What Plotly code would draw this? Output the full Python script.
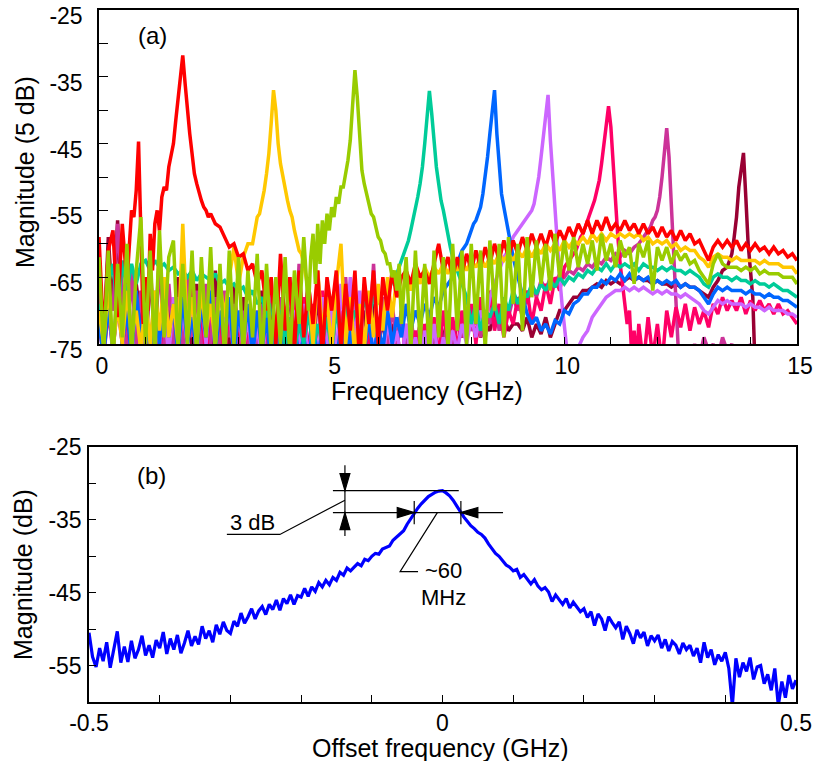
import plotly.graph_objects as go

FIG_W, FIG_H = 821, 761
FONT = "Liberation Sans, Arial, sans-serif"

# ---------------------------------------------------------------------------
# Panel (a): measured spectra, one trace per tuned frequency.
# Each spectrum is kept as segments: (start GHz, step GHz, magnitudes in dB).
# ---------------------------------------------------------------------------
RED_LOW = [-59, -74, -61, -58, -71, -57, -66, -55]
RED_PEAK = [-56, -52, -44.7, -58, -72, -65, -70, -58.5, -64, -57,
            -55, -58, -53, -51.5, -52, -48.5, -47, -45, -41.5, -38.5,
            -34.5, -31.8, -36, -40, -43.5, -46.5, -49.5, -51, -52.5, -53.5,
            -54.5, -55, -56]
RED_HIGH = [-55.5, -57, -57.5, -59, -60.5, -60,
            -62, -61.5, -64, -63, -66, -64, -70, -65, -75, -61.5,
            -73, -65, -76, -64, -74, -66, -72, -64, -77, -65,
            -70, -64, -76, -66, -73, -64, -78, -65, -72, -64,
            -75, -65, -70, -64, -68, -65, -64, -66, -63, -65,
            -64, -66, -63, -60, -64, -62, -65, -62, -64.5, -61.5,
            -64, -61, -63.5, -60.5, -63, -60, -62.5, -59.5, -62, -59.5,
            -61.5, -59, -61, -58.5, -60.5, -58.5, -60.5, -58, -60, -58,
            -59.5, -57.5, -59, -57, -58.5, -56.5, -58.5, -56.5, -58, -56,
            -58, -57, -58, -56.5, -58, -57, -58.5, -57, -58.5, -57.5,
            -59, -57.5, -59, -58, -59.5, -58, -59.5, -58.5, -60, -59.5,
            -61, -62.5, -60.5, -59.5, -60.5, -59.5, -60.5, -59.5, -61, -60,
            -61, -60, -61, -60.5, -61.5, -60.5, -61.5, -61, -62, -61.5,
            -62.5]

YEL_LOW = [-70, -75, -66, -76, -69, -75, -67, -74, -70, -76,
           -68, -75, -67, -73, -65, -74, -69, -75, -57, -74,
           -68, -75, -67, -73, -69, -75, -66, -71, -65, -60.5,
           -66, -62, -60]
YEL_PEAK = [-60, -58, -56, -55.5, -54, -52, -49.5, -46.5, -42, -37,
            -40, -45, -48, -50, -52, -53.5, -55, -56, -58, -59.5,
            -61, -61.5, -63]
YEL_HIGH = [-67, -75, -64, -73, -68,
            -76, -66, -60, -75, -68, -77, -69, -76, -67, -74,
            -66, -73, -65, -71, -65, -69, -64, -67, -64, -66,
            -63.5, -65, -63.5, -64.5, -63, -64.5, -63, -64, -62.5, -64,
            -62.5, -63.5, -62, -63.5, -62, -63, -61.5, -62.5, -61.5, -62.5,
            -61, -62, -60.5, -62, -60.5, -61.5, -60, -61, -60, -61,
            -59.5, -60.5, -59.5, -60, -59, -60, -58.5, -59.5, -58.5, -59.5,
            -58.5, -59, -58.5, -59, -58.5, -59, -58.5, -59.5, -59, -60,
            -59.5, -60, -59.5, -60.5, -60, -61, -60.5, -61, -61, -62,
            -62.5, -63.5, -62, -61.5, -62, -62, -62.5, -62, -62.5, -62.5,
            -62.5, -62.5, -63, -62.5, -63, -63, -63, -63.5, -63.5, -63.5,
            -64.5]

GRN_LOW = [-62, -76, -61, -78, -63, -74, -60, -77, -64, -56,
           -75, -61, -77, -58, -74, -62, -59.5, -76, -63, -75,
           -61, -77, -62, -74, -60.5, -76, -63, -78, -61, -75,
           -62, -77, -64, -74, -61.5, -78, -63, -76, -65, -75,
           -62, -77, -64, -72, -59, -70]
GRN_PEAK = [-62, -58.5, -66, -57, -63, -56.5, -60, -55.5, -58, -54.5,
            -56, -53, -54, -51.5, -51.5, -49.5, -47.5, -44.5, -40, -34,
            -38, -44.5, -49, -51, -52.5, -54, -55.5, -56, -57.5, -59,
            -59.5, -61, -61.5, -63, -63, -65, -64, -67, -63]
GRN_HIGH = [-72, -62, -76, -61, -75,
            -63, -77, -61, -74, -62, -76, -60, -73, -61, -75,
            -60, -72, -61, -76, -59.5, -70, -60, -74, -59, -69,
            -60, -73, -59, -68, -59.5, -66, -60, -67, -58.5, -65,
            -59.5, -64, -59, -63.5, -60, -63, -59.5, -64, -58.5, -62.5,
            -60, -63.5, -59.5, -62, -60.5, -66, -60, -62, -59.5, -67,
            -60.5, -62.5, -60.5, -63, -61, -62.5, -61.5, -63, -62.5, -64,
            -65, -66, -63, -61.5, -63, -63.5, -63.5, -63.5, -64, -63.5,
            -64, -63.5, -64.5, -64, -64.5, -64.5, -64.5, -65, -65, -65,
            -66]

TEA_LOW = [-69, -75, -66, -63, -70, -62.5, -67, -63, -66, -63,
           -62.5, -64, -62.5, -63.5, -63, -64, -63.5, -64.5, -64, -65,
           -64, -65.5, -64.5, -65, -65.5, -64.5, -66, -65.5, -66.5, -66,
           -67, -66.5, -68, -67, -69, -68, -71, -69, -73, -70,
           -75, -71, -76, -72, -75, -70, -76, -72, -75, -71,
           -76, -70, -74, -69, -73, -70, -72, -68, -71, -68,
           -69, -67, -67.5, -65.5]
TEA_PEAK = [-64.5, -63.5, -62.5, -61.5, -60.5, -59.5, -58, -56.5, -55, -53,
            -51, -48.5, -45, -40.5, -37.1, -40.5, -45, -48.5, -51, -53.5,
            -55, -57, -59, -60.5, -62, -63, -64, -65, -66]
TEA_HIGH = [-68,
            -72, -69, -73, -70, -71, -69, -72, -68, -70, -67,
            -69, -67, -68, -66, -67.5, -66, -67, -65.5, -66.5, -65,
            -66, -65, -65.5, -64.5, -65, -64, -64.5, -63.5, -64, -63,
            -64, -63, -63.5, -63, -63.5, -63, -64, -63, -63.5, -63.5,
            -64, -63.5, -64, -63.5, -64, -64, -64.5, -64, -64.5, -65,
            -66, -66.5, -65, -64.5, -65, -65, -65.5, -65, -65.5, -65.5,
            -66, -65.5, -66, -66, -66.5, -66, -66.5, -67, -67, -67.5,
            -68]

BLU_LOW = [-72, -77, -69, -76, -68, -75, -70, -77, -67, -74,
           -70, -76, -68, -75, -66, -74, -69, -77, -68, -75,
           -71, -76, -69, -74, -67, -76, -70, -75, -68, -77,
           -70, -75, -69, -77, -70, -76, -71, -78, -72, -76,
           -73, -78, -72, -77, -74, -78, -72, -77, -73, -78,
           -74, -78, -72, -77, -73, -78, -72, -76, -71, -77,
           -72, -76, -70, -75, -71, -74, -69, -73, -70, -72,
           -69, -71, -68, -69.5, -67, -66]
BLU_PEAK = [-65, -63.5, -63, -62, -61, -60.5, -60, -59, -58, -57,
            -56.5, -55.5, -54.5, -52.5, -50, -47, -43.5, -39.5, -37, -43.5,
            -49, -52.5, -54.5, -56.5, -58.5, -60.5, -62, -63.5, -65]
BLU_HIGH = [-68, -70.5, -72, -71, -73, -72, -73.5, -71.5, -72,
            -70, -70.5, -69, -68.5, -67.5, -67.5, -66.5, -66.5, -65.5, -66,
            -65, -65.5, -64.5, -65.5, -64.5, -65.5, -65, -65.5, -65, -66,
            -65.5, -66, -65.5, -66, -65.5, -66.5, -66, -66.5, -66.5, -67,
            -68, -69, -67.5, -66.5, -67, -66.5, -67, -67, -67, -67.5,
            -67, -67.5, -67.5, -68, -67.5, -68, -68, -68.5, -68.5, -69,
            -69.5]

PUR_LOW = [-70, -76, -68, -77, -66, -75, -69, -77, -68, -76,
           -71, -76, -67, -75, -69, -77, -68, -76, -70, -75,
           -69, -77, -68, -75, -65.5, -76, -66, -74, -69, -77,
           -70, -76, -71, -77, -72, -78, -71, -76, -73, -78,
           -72, -77, -70, -76, -69, -78, -71, -77, -68, -76,
           -70, -77, -66, -75, -65, -74, -67, -76, -70, -77,
           -72, -78, -71, -76, -73, -78, -72, -77, -74, -78,
           -73, -77, -72, -78, -74, -77, -73, -76, -72, -75,
           -71, -74, -70, -72, -68, -66, -64, -62]
PUR_PEAK = [-61, -60, -59, -58.5, -58, -57.5, -57, -56.5, -56, -55.5,
            -55, -54, -52, -50, -47, -43.5, -40, -37.7, -44.5, -50,
            -56, -60.5, -65, -69, -73, -75.5, -77]
PUR_HIGH = [-76, -75.5, -74, -73, -71, -70, -69, -68,
            -67.5, -67, -67, -66.5, -67, -66.5, -67, -66.5, -67, -67.5,
            -67, -67.5, -67, -67.5, -67.5, -68, -67.5, -68, -68.5, -69,
            -70, -70.5, -69.5, -68.5, -69, -68.5, -69, -69, -69, -69.5,
            -69, -69.5, -69.5, -70, -69.5, -70, -70, -70, -70.5, -70.5,
            -71]

PNK_LOW = [-72, -77, -70, -76, -69, -75, -71, -77, -68, -76,
           -70, -77, -69, -76, -71, -75, -68, -77, -62, -75,
           -66, -76, -70, -77, -68, -75, -71, -77, -69, -76,
           -71, -77, -72, -76, -70, -78, -72, -77, -73, -78,
           -70, -77, -66, -75, -68, -77, -69, -76, -67, -75,
           -69, -77, -70, -76, -72, -78, -71, -77, -73, -78,
           -72, -77, -71, -76, -73, -78, -72, -76, -73, -77,
           -72, -76, -71, -77, -70, -75, -71, -76, -70, -74,
           -69, -75, -68, -74, -67, -73, -69, -74, -70, -72,
           -68, -71, -67, -72, -68, -70, -66, -69, -65, -67,
           -63.5, -62.5]
PNK_PEAK = [-61.5, -61, -60, -59, -58.5, -57.5, -56.5, -55.5, -54.5, -53.5,
            -52, -50.5, -48, -45, -42, -39.4, -42.5, -48.5, -53.5, -59,
            -63, -66, -68, -72, -70, -77, -73, -78, -72]
PNK_HIGH = [-78, -71, -77,
            -72, -78, -70, -74, -69.5, -72.5, -69, -73, -69.5, -72,
            -70, -72.5, -69, -70.5, -68, -70, -68.5, -70, -68, -70.5,
            -68.5, -70, -68.5, -70, -69, -70.5, -69, -70.5, -70, -71,
            -72]

MAG_LOW = [-66, -76, -68, -70, -57, -66, -77, -64, -75, -67,
           -76, -63, -75, -61, -77, -66, -75, -68, -76, -65,
           -74, -67, -77, -66, -75, -68, -76, -67, -74, -69,
           -77, -70, -76, -71, -78, -69, -76, -67, -75, -68,
           -76, -65, -77, -63, -75, -66, -77, -64, -76, -66,
           -75, -67, -77, -65, -76, -68, -74, -66, -75, -63,
           -76, -68, -77, -69, -75, -70, -77, -71, -76, -72,
           -75, -71, -77, -72, -76, -70, -75, -71, -74, -70,
           -73, -69, -74, -70, -72, -68, -73, -69, -71, -68,
           -70, -67, -69, -66, -68, -65.5, -67, -65, -66, -64.5,
           -65, -64, -64.5, -63.5, -64, -63, -63.5, -62.5, -63, -62,
           -62.5, -61.5, -62, -61, -61.5, -60.5]
MAG_PEAK = [-60, -59.5, -59, -58.5, -58, -57.5, -56.5, -56, -55, -53,
            -50, -46, -42.7, -47, -55, -63, -70, -76, -79]
MAG_HIGH = [-76, -78, -75, -77,
            -74, -76, -75, -77, -74, -76, -75, -77, -76, -78,
            -75, -77, -76, -78, -77, -78, -76, -78, -77, -78,
            -77]

MAR_LOW = [-65, -75, -59, -70, -56.5, -74, -63, -76, -66, -72,
           -77, -64, -75, -62, -74, -67, -76, -65, -75, -68,
           -76, -66, -75, -69, -77, -64, -75, -68, -76, -66,
           -75, -68, -77, -70, -76, -67, -75, -69, -77, -71,
           -76, -66, -77, -68, -75, -65, -77, -67, -76, -69,
           -77, -66, -75, -67, -76, -68, -77, -70, -75, -69,
           -76, -71, -77, -72, -75, -70, -76, -71, -77, -72,
           -75, -70, -76, -72, -74, -71, -75, -72, -74, -71,
           -73, -71, -74, -72, -73, -70, -72, -71, -73, -72,
           -72, -73, -71, -74, -72, -73.5, -71, -74, -72, -70,
           -70, -69, -68, -68, -67, -67, -66.5, -66, -66.5, -65.5,
           -66, -65.5, -66, -65.5, -65, -65.5, -65, -65.5, -65.5, -66,
           -65.5, -66, -66, -66.5, -66, -66.5, -66, -66.5, -66.5, -67,
           -67.5, -68, -66.5, -65.5, -64]
MAR_PEAK = [-63.5, -62.5, -61.5, -59, -56, -51.5, -48.5, -46.4, -53, -60,
            -64, -68, -79]
MAR_HIGH = [-77, -78, -76, -78, -77, -78, -77, -78, -77]

# drawing order: later entries sit on top
SPECTRA = [
    ("#990033", [(0.0, 0.1, MAR_LOW), (13.5, 0.05, MAR_PEAK), (14.2, 0.1, MAR_HIGH)]),
    ("#CC3399", [(0.0, 0.1, MAG_LOW), (11.6, 0.05, MAG_PEAK), (12.6, 0.1, MAG_HIGH)]),
    ("#FF0066", [(0.0, 0.1, PNK_LOW), (10.2, 0.05, PNK_PEAK), (11.7, 0.1, PNK_HIGH)]),
    ("#CC66FF", [(0.0, 0.1, PUR_LOW), (8.8, 0.05, PUR_PEAK), (10.2, 0.1, PUR_HIGH)]),
    ("#0066FF", [(0.0, 0.1, BLU_LOW), (7.6, 0.05, BLU_PEAK), (9.1, 0.1, BLU_HIGH)]),
    ("#00CC99", [(0.0, 0.1, TEA_LOW), (6.4, 0.05, TEA_PEAK), (7.9, 0.1, TEA_HIGH)]),
    ("#FFC800", [(0.0, 0.1, YEL_LOW), (3.3, 0.05, YEL_PEAK), (4.5, 0.1, YEL_HIGH)]),
    ("#FF0000", [(0.0, 0.1, RED_LOW), (0.75, 0.05, RED_PEAK), (2.4, 0.1, RED_HIGH)]),
    ("#99CC00", [(0.0, 0.1, GRN_LOW), (4.55, 0.05, GRN_PEAK), (6.5, 0.1, GRN_HIGH)]),
]

# ---------------------------------------------------------------------------
# Panel (b): zoom on one line, offset from its centre, 5 MHz steps.
# ---------------------------------------------------------------------------
OFFSET_START, OFFSET_STEP = -0.5, 0.005
OFFSET_DB = [
    -50.5, -53.8, -55.2, -52.6, -54.4, -51.8, -55.3, -53.0, -50.3, -54.6,
    -52.4, -54.5, -51.6, -54.0, -52.8, -50.9, -53.6, -52.2, -53.9, -51.5,
    -52.6, -50.4, -53.4, -51.3, -52.8, -50.8, -53.3, -51.9, -50.2, -52.3,
    -51.0, -52.1, -49.6, -51.3, -50.2, -51.8, -49.4, -50.7, -49.0, -50.2,
    -50.6, -48.9, -49.6, -47.8, -49.2, -48.3, -47.2, -48.6, -47.5, -46.9,
    -48.0, -46.6, -47.3, -46.0, -47.4, -45.8, -46.5, -45.3, -46.6, -45.4,
    -45.6, -44.4, -45.5, -44.2, -44.8, -43.6, -44.2, -43.3, -43.9, -42.9,
    -43.3, -42.2, -42.6, -41.6, -42.0, -41.5, -41.0, -41.3, -40.4, -40.6,
    -40.0, -39.6, -39.7, -39.0, -38.8, -38.6, -37.8, -37.4, -37.0, -36.5,
    -35.6, -34.8, -34.0, -33.4, -32.8, -32.3, -31.8, -31.5, -31.2, -31.05,
    -31.0, -31.3, -31.7, -32.3, -33.1, -33.9, -34.6, -35.2, -35.8, -36.2,
    -36.7, -37.0, -37.5, -38.3, -39.0, -39.6, -40.0, -40.6, -41.2, -41.5,
    -42.0, -41.8, -42.9, -42.5, -43.1, -43.8, -43.2, -44.1, -44.6, -44.3,
    -44.9, -46.2, -45.3, -45.9, -46.6, -45.8, -47.1, -46.3, -47.0, -47.6,
    -47.2, -48.4, -47.6, -49.5, -47.9, -48.6, -50.2, -48.3, -49.1, -49.8,
    -49.0, -51.4, -49.6, -50.6, -52.0, -50.1, -51.2, -50.4, -52.3, -50.9,
    -51.6, -50.8, -52.6, -51.4, -53.0, -51.7, -52.2, -53.4, -51.9, -52.8,
    -52.2, -53.7, -52.6, -54.6, -51.8, -53.9, -52.8, -54.9, -53.5, -54.4,
    -53.2, -55.4, -60.5, -54.0, -56.6, -54.6, -55.8, -53.9, -56.9, -55.2,
    -55.0, -57.5, -56.2, -58.4, -55.4, -60.5, -57.2, -59.4, -56.3, -58.2,
    -57.0,
]

# linewidth markers of panel (b)
PEAK_DB = -31.0
HALF_DB = PEAK_DB - 3.0
F_LEFT, F_RIGHT = -0.040, 0.026
BAR_X = -0.138

# axis ticks
A_X_TICKS, A_X_LABELS = [0, 5, 10, 15], ["0", "5", "10", "15"]
A_X_MINOR = list(range(16))
A_Y_TICKS = [-25, -35, -45, -55, -65, -75]
A_Y_LABELS = ["-25", "-35", "-45", "-55", "-65", "-75"]
A_Y_MINOR = [-30, -40, -50, -60, -70]
B_X_TICKS, B_X_LABELS = [-0.5, 0, 0.5], ["-0.5", "0", "0.5"]
B_X_MINOR = [-0.4, -0.3, -0.2, -0.1, 0.1, 0.2, 0.3, 0.4]
B_Y_TICKS, B_Y_LABELS = [-25, -35, -45, -55], ["-25", "-35", "-45", "-55"]
B_Y_MINOR = [-30, -40, -50]


def expand(segments):
    freqs, mags = [], []
    for start, step, values in segments:
        for i, v in enumerate(values):
            freqs.append(round(start + i * step, 3))
            mags.append(v)
    return freqs, mags


fig = go.Figure()

for color, segments in SPECTRA:
    f, m = expand(segments)
    fig.add_trace(go.Scatter(x=f, y=m, mode="lines", xaxis="x", yaxis="y",
                             line=dict(color=color, width=3.5), hoverinfo="skip"))

off = [round(OFFSET_START + i * OFFSET_STEP, 4) for i in range(len(OFFSET_DB))]
fig.add_trace(go.Scatter(x=off, y=OFFSET_DB, mode="lines", xaxis="x2", yaxis="y2",
                         line=dict(color="#0000FF", width=3.2), hoverinfo="skip"))


def px_x(px):
    return px / FIG_W


def px_y(py):
    return 1 - py / FIG_H


def axis(domain, rng, ticks, labels, minor, ticklen, standoff, anchor, shift=0):
    return dict(
        domain=domain, range=rng, anchor=anchor, automargin=False,
        tickmode="array", tickvals=ticks, ticktext=labels,
        ticks="inside", ticklen=ticklen, tickwidth=1.2, tickcolor="black",
        minor=dict(tickmode="array", tickvals=minor, ticks="inside",
                   ticklen=ticklen, tickwidth=1.2, tickcolor="black", showgrid=False),
        showline=True, linecolor="black", linewidth=1.5, mirror=True,
        showgrid=False, zeroline=False, ticklabelstandoff=standoff,
        ticklabelshift=shift, ticklabeloverflow="allow",
        tickfont=dict(family=FONT, size=23, color="black"),
    )


fig.update_layout(
    width=FIG_W, height=FIG_H,
    margin=dict(l=0, r=0, t=0, b=0, autoexpand=False),
    paper_bgcolor="white", plot_bgcolor="white",
    showlegend=False,
    font=dict(family=FONT, size=23, color="black"),
    xaxis=axis([px_x(99), px_x(797)], [0, 15], A_X_TICKS, A_X_LABELS,
               A_X_MINOR, 7, 1, "y", shift=3),
    yaxis=axis([px_y(344), px_y(10)], [-75, -25], A_Y_TICKS, A_Y_LABELS,
               A_Y_MINOR, 9, 10, "x", shift=6),
    xaxis2=axis([px_x(89), px_x(796)], [-0.5, 0.5], B_X_TICKS, B_X_LABELS,
                B_X_MINOR, 7, 0, "y2"),
    yaxis2=axis([px_y(702), px_y(447)], [-60, -25], B_Y_TICKS, B_Y_LABELS,
                B_Y_MINOR, 7, 1, "x2"),
)


def label(text, px, py, size=25, angle=0):
    fig.add_annotation(text=text, x=px_x(px), y=px_y(py), xref="paper", yref="paper",
                       showarrow=False, xanchor="center", yanchor="middle",
                       textangle=angle, font=dict(family=FONT, size=size, color="black"))


label("Frequency (GHz)", 427, 391)
label("Magnitude (5 dB)", 25, 172, angle=-90)
label("Offset frequency (GHz)", 440, 748)
label("Magnitude (dB)", 23, 575, angle=-90)
label("(a)", 152, 36, size=24)
label("(b)", 151, 475, size=24)


def data_text(text, x, y):
    fig.add_annotation(text=text, x=x, y=y, xref="x2", yref="y2", showarrow=False,
                       xanchor="center", yanchor="middle",
                       font=dict(family=FONT, size=22, color="black"))


data_text("3 dB", -0.269, -35.4)
data_text("~60", 0.001, -41.9)
data_text("MHz", 0.001, -45.6)

LINE = dict(color="black", width=1.2)


def seg(x0, y0, x1, y1):
    fig.add_shape(type="line", x0=x0, y0=y0, x1=x1, y1=y1, xref="x2", yref="y2", line=LINE)


def path(points, filled):
    d = "M " + " L ".join(f"{x},{y}" for x, y in points)
    if filled:
        d += " Z"
    fig.add_shape(type="path", path=d, xref="x2", yref="y2", line=LINE,
                  fillcolor="black" if filled else "rgba(0,0,0,0)")


# level lines at the maximum and 3 dB below it
seg(-0.155, PEAK_DB, 0.023, PEAK_DB)
seg(-0.155, HALF_DB, 0.0856, HALF_DB)
# vertical 3 dB bar with arrowheads pointing at both levels
seg(BAR_X, -27.5, BAR_X, -37.2)
path([(BAR_X - 0.007, PEAK_DB + 2.35), (BAR_X + 0.007, PEAK_DB + 2.35), (BAR_X, PEAK_DB)], True)
path([(BAR_X - 0.007, HALF_DB - 2.35), (BAR_X + 0.007, HALF_DB - 2.35), (BAR_X, HALF_DB)], True)
# half-power points and inward arrows
seg(F_LEFT, HALF_DB + 1.6, F_LEFT, HALF_DB - 1.6)
seg(F_RIGHT, HALF_DB + 1.6, F_RIGHT, HALF_DB - 1.6)
path([(F_LEFT - 0.024, HALF_DB + 0.7), (F_LEFT - 0.024, HALF_DB - 0.7), (F_LEFT, HALF_DB)], True)
path([(F_RIGHT + 0.024, HALF_DB + 0.7), (F_RIGHT + 0.024, HALF_DB - 0.7), (F_RIGHT, HALF_DB)], True)
# leader lines to the text labels
path([(BAR_X, -32.3), (-0.230, -37.0), (-0.305, -37.0)], False)
path([(-0.0073, HALF_DB), (-0.060, -42.1), (-0.0346, -42.1)], False)

fig.write_html("out.html")
